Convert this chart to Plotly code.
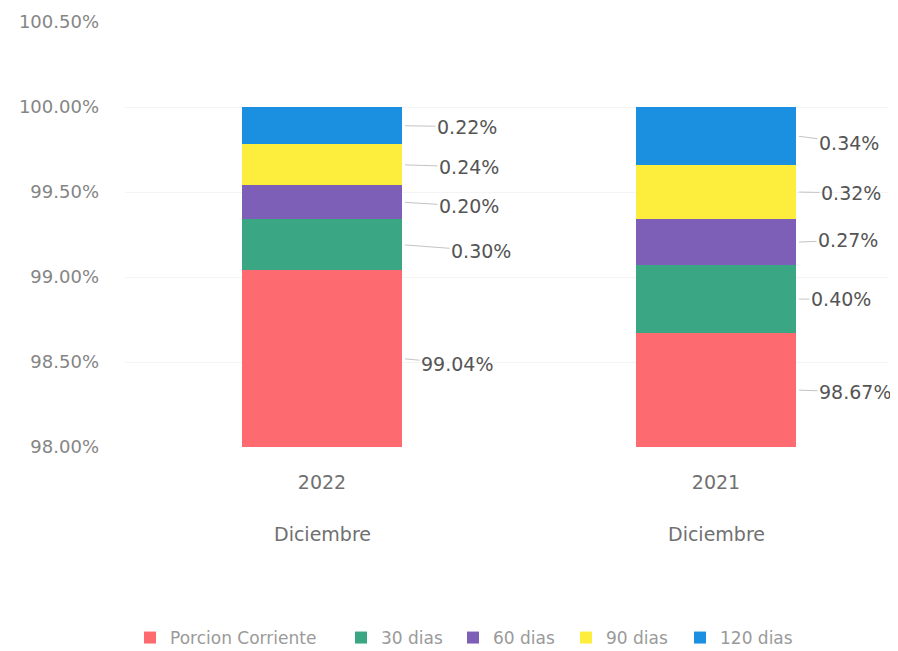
import plotly.graph_objects as go

periods = ["2022", "2021"]
month_labels = ["Diciembre", "Diciembre"]
series_names = ["Porcion Corriente", "30 dias", "60 dias", "90 dias", "120 dias"]
porcion_corriente = [99.04, 98.67]
dias_30 = [0.30, 0.40]
dias_60 = [0.20, 0.27]
dias_90 = [0.24, 0.32]
dias_120 = [0.22, 0.34]
y_ticks = [98.0, 98.5, 99.0, 99.5, 100.0, 100.5]

series_values = [porcion_corriente, dias_30, dias_60, dias_90, dias_120]
colors = ["#FD6A70", "#3BA684", "#7E5FB8", "#FDEE3E", "#1B8FE0"]

FONT = "DejaVu Sans, Verdana, sans-serif"
BASE = 98.0
BAR_W = 0.406
xs = [0, 1]

# figure geometry (pixels); page body adds an 8px offset
W, H = 890, 700
L, R, T = 117, 10, 14
PLOT_BOTTOM = 439
B = H - PLOT_BOTTOM
PW = W - L - R
PH = PLOT_BOTTOM - T

legend_ids = ["legend", "legend2", "legend3", "legend4", "legend5"]
legend_marker_px = [142, 353, 465, 578, 692]   # marker centres, figure px
LEGEND_Y_PX = 630

fig = go.Figure()
for name, vals, col, lid in zip(series_names, series_values, colors, legend_ids):
    fig.add_trace(go.Bar(
        x=xs, y=vals, name=name, marker=dict(color=col, line=dict(width=0)),
        width=BAR_W, hoverinfo="skip", legend=lid,
    ))

# label offsets (pixels) per bar / segment: style only
label_dx = [[55, 79, 67, 67, 65], [59, 45, 52, 55, 53]]
label_dy = [[5, 6, 4, 2, 1], [2, 0, -2, 1, 7]]

annotations = []
for i, x in enumerate(xs):
    bottom = 0.0
    for s, vals in enumerate(series_values):
        v = vals[i]
        lo = max(bottom, BASE)
        hi = bottom + v
        mid = (lo + hi) / 2
        annotations.append(dict(
            x=x + BAR_W / 2, y=mid, xref="x", yref="y",
            text=f"{v:.2f}%", showarrow=True, arrowhead=0, arrowwidth=1,
            arrowcolor="#c4c4c4", ax=label_dx[i][s], ay=label_dy[i][s],
            standoff=3, startstandoff=0,
            font=dict(family=FONT, size=19, color="#555555"),
        ))
        bottom = hi
    annotations.append(dict(
        x=x, y=0, xref="x", yref="paper", yanchor="top",
        text=month_labels[i], showarrow=False, yshift=-74,
        font=dict(family=FONT, size=19, color="#707070"),
    ))

layout_legends = {}
for lid, mx in zip(legend_ids, legend_marker_px):
    layout_legends[lid] = dict(
        orientation="h", x=(mx - 20 - L) / PW, xanchor="left",
        y=-(LEGEND_Y_PX - PLOT_BOTTOM) / PH, yanchor="middle",
        bgcolor="rgba(0,0,0,0)",
        font=dict(family=FONT, size=17, color="#9a9a9a"),
        itemwidth=30,
    )

fig.update_layout(
    barmode="stack",
    width=W, height=H,
    margin=dict(l=L, r=R, t=T, b=B),
    plot_bgcolor="white", paper_bgcolor="white",
    showlegend=True,
    annotations=annotations,
    **layout_legends,
)
fig.update_xaxes(
    tickvals=xs, ticktext=periods, range=[-0.5, 1.4365],
    showgrid=False, zeroline=False, showline=False, ticks="",
    ticklabelstandoff=22, automargin=False,
    tickfont=dict(family=FONT, size=19, color="#707070"),
)
fig.update_yaxes(
    range=[98.0, 100.5], tickvals=y_ticks,
    ticktext=[f"{v:.2f}%" for v in y_ticks],
    showgrid=True, gridcolor="#f4f4f4", zeroline=False, showline=False,
    ticklabelstandoff=25, automargin=False,
    tickfont=dict(family=FONT, size=18, color="#858585"),
)

fig.write_html("out.html")
